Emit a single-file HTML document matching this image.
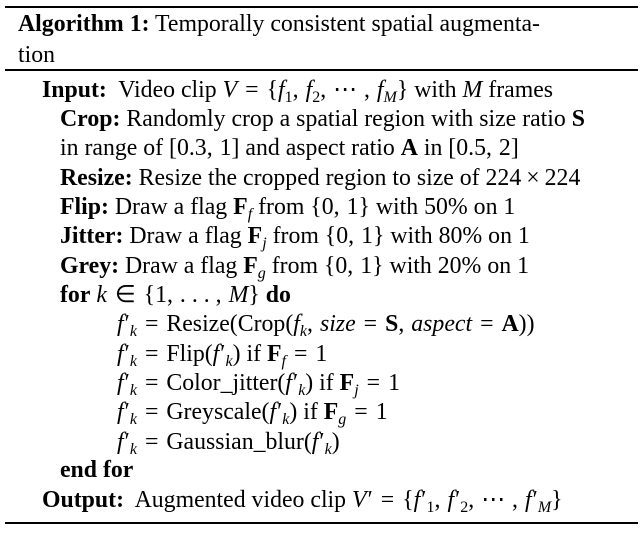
<!DOCTYPE html>
<html><head><meta charset="utf-8"><style>
body{margin:0;width:643px;height:533px;background:#fff;position:relative;overflow:hidden;font-family:"Liberation Serif",serif;font-size:23.8px;color:#000}
.r{position:absolute;left:5px;width:633px;background:#000}
.l{position:absolute;white-space:nowrap;line-height:29px}
i{font-style:italic}
b{font-weight:bold}
sub{font-size:16px;line-height:0;vertical-align:-5px}
.p{margin-left:1px}
.e{margin:0 8px}
.c{display:inline-block;width:7px}
.x{margin:0 5px}
</style></head><body>
<div class="r" style="top:6px;height:2px"></div>
<div class="r" style="top:69px;height:2px"></div>
<div class="r" style="top:522px;height:2px"></div>
<div class="l" style="left:18px;top:10px"><b>Algorithm 1:</b> Temporally consistent spatial augmenta-</div>
<div class="l" style="left:18px;top:41px">tion</div>
<div class="l" style="left:42px;top:76px"><b>Input:</b>&nbsp; Video clip <i>V</i><span class="e">=</span>{<i>f</i><sub>1</sub>,<span class="c"></span><i>f</i><sub>2</sub>,<span class="c"></span>⋯<span class="c"></span>,<span class="c"></span><i>f<sub>M</sub></i>} with <i>M</i> frames</div>
<div class="l" style="left:60px;top:105px"><b>Crop:</b> Randomly crop a spatial region with size ratio <b>S</b></div>
<div class="l" style="left:60px;top:134px">in range of [0.3,<span class="c"></span>1] and aspect ratio <b>A</b> in [0.5,<span class="c"></span>2]</div>
<div class="l" style="left:60px;top:164px"><b>Resize:</b> Resize the cropped region to size of 224<span class="x">×</span>224</div>
<div class="l" style="left:60px;top:193px"><b>Flip:</b> Draw a flag <b>F</b><sub><i>f</i></sub> from {0,<span class="c"></span>1} with 50% on 1</div>
<div class="l" style="left:60px;top:222px"><b>Jitter:</b> Draw a flag <b>F</b><sub><i>j</i></sub> from {0,<span class="c"></span>1} with 80% on 1</div>
<div class="l" style="left:60px;top:252px"><b>Grey:</b> Draw a flag <b>F</b><sub><i>g</i></sub> from {0,<span class="c"></span>1} with 20% on 1</div>
<div class="l" style="left:60px;top:281px"><b>for</b> <i>k</i><span class="e">∈</span>{1,<span class="c"></span>. . . ,<span class="c"></span><i>M</i>} <b>do</b></div>
<div class="l" style="left:117px;top:310px"><i>f</i><span class="p">′</span><sub><i>k</i></sub><span class="e">=</span>Resize(Crop(<i>f<sub>k</sub></i>,<span class="c"></span><i>size</i><span class="e">=</span><b>S</b>,<span class="c"></span><i>aspect</i><span class="e">=</span><b>A</b>))</div>
<div class="l" style="left:117px;top:340px"><i>f</i><span class="p">′</span><sub><i>k</i></sub><span class="e">=</span>Flip(<i>f</i><span class="p">′</span><sub><i>k</i></sub>) if <b>F</b><sub><i>f</i></sub><span class="e">=</span>1</div>
<div class="l" style="left:117px;top:369px"><i>f</i><span class="p">′</span><sub><i>k</i></sub><span class="e">=</span>Color_jitter(<i>f</i><span class="p">′</span><sub><i>k</i></sub>) if <b>F</b><sub><i>j</i></sub><span class="e">=</span>1</div>
<div class="l" style="left:117px;top:398px"><i>f</i><span class="p">′</span><sub><i>k</i></sub><span class="e">=</span>Greyscale(<i>f</i><span class="p">′</span><sub><i>k</i></sub>) if <b>F</b><sub><i>g</i></sub><span class="e">=</span>1</div>
<div class="l" style="left:117px;top:428px"><i>f</i><span class="p">′</span><sub><i>k</i></sub><span class="e">=</span>Gaussian_blur(<i>f</i><span class="p">′</span><sub><i>k</i></sub>)</div>
<div class="l" style="left:60px;top:456px"><b>end for</b></div>
<div class="l" style="left:42px;top:486px"><b>Output:</b>&nbsp; Augmented video clip <i>V</i><span class="p">′</span><span class="e">=</span>{<i>f</i><span class="p">′</span><sub>1</sub>,<span class="c"></span><i>f</i><span class="p">′</span><sub>2</sub>,<span class="c"></span>⋯<span class="c"></span>,<span class="c"></span><i>f</i><span class="p">′</span><sub><i>M</i></sub>}</div>
</body></html>
